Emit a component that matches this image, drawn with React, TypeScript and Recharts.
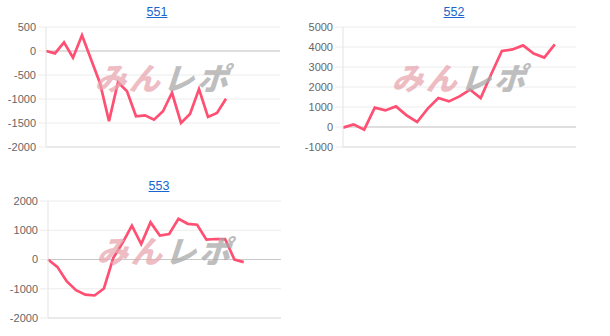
import React from "react";
import {
  LineChart,
  Line,
  XAxis,
  YAxis,
  CartesianGrid,
  ReferenceLine,
} from "recharts";

// ---------------------------------------------------------------------------
// Data
// ---------------------------------------------------------------------------

const TITLES = ["551", "552", "553"];

const VALUES_551 = [
  0, -50, 180, -140, 330, -170, -670, -1460, -650, -840, -1360, -1340, -1430,
  -1255, -870, -1497, -1311, -793, -1373, -1290, -994,
];
const VALUES_552 = [
  -30, 130, -130, 970, 830, 1030, 580, 250, 920, 1450, 1280, 1530, 1870, 1450,
  2650, 3800, 3880, 4080, 3670, 3470, 4130,
];
const VALUES_553 = [
  0, -250, -740, -1050, -1200, -1230, -990, 50, 570, 1160, 530, 1270, 820, 870,
  1390, 1220, 1190, 680, 700, 700, 0, -90,
];

const TICKS_551 = [-2000, -1500, -1000, -500, 0, 500];
const TICKS_552 = [-1000, 0, 1000, 2000, 3000, 4000, 5000];
const TICKS_553 = [-2000, -1000, 0, 1000, 2000];

// number of x slots on each axis (the series do not fill all of them)
const X_SLOTS = [26, 22, 25];

const WATERMARK_PINK = "みん";
const WATERMARK_GRAY = "レポ";

// ---------------------------------------------------------------------------
// Mini chart
// ---------------------------------------------------------------------------

interface MiniChartProps {
  title: string;
  values: number[];
  ticks: number[];
  xSlots: number;
  left: number;
  top: number;
  width: number;
  height: number;
  axisWidth: number;
}

function MiniChart({
  title,
  values,
  ticks,
  xSlots,
  left,
  top,
  width,
  height,
  axisWidth,
}: MiniChartProps) {
  const data = values.map((v, i) => ({ x: i, v }));
  const min = ticks[0];
  const max = ticks[ticks.length - 1];
  const plotLeft = left + axisWidth;

  return (
    <>
      <div
        style={{
          ...styles.title,
          left: plotLeft + 111 - 36,
          top: top + 4,
        }}
      >
        {title}
      </div>
      <div style={{ position: "absolute", left, top }}>
        <LineChart
          width={width}
          height={height}
          data={data}
          margin={{ top: 27, right: 10, left: 0, bottom: 8 }}
        >
          <CartesianGrid vertical={false} stroke="#ececec" />
          <XAxis dataKey="x" type="number" domain={[0, xSlots]} hide />
          <YAxis
            width={axisWidth}
            domain={[min, max]}
            allowDataOverflow
            ticks={ticks}
            tickCount={ticks.length}
            interval={0}
            axisLine={{ stroke: "#e3e3e3" }}
            tickLine={{ stroke: "#ececec" }}
            tickSize={8}
            tickMargin={2}
            tick={{
              fontSize: 11,
              fill: "#666",
              fontFamily: "'Liberation Sans', Arial, sans-serif",
            }}
          />
          <ReferenceLine y={0} stroke="#c9c9c9" />
          <ReferenceLine y={min} stroke="#dedede" />
          <Line
            type="linear"
            dataKey="v"
            stroke="#ff4f72"
            strokeWidth={2.7}
            dot={false}
            isAnimationActive={false}
          />
        </LineChart>
      </div>
      <div
        style={{
          ...styles.watermark,
          left: plotLeft + 53,
          top: top + (height - 35) / 2 - 1,
        }}
      >
        <span style={{ color: "#e8a7af" }}>{WATERMARK_PINK}</span>
        <span style={{ color: "#a9a9a9" }}>{WATERMARK_GRAY}</span>
      </div>
    </>
  );
}

// ---------------------------------------------------------------------------
// App
// ---------------------------------------------------------------------------

export default function App() {
  return (
    <div style={styles.page}>
      <MiniChart
        title={TITLES[0]}
        values={VALUES_551}
        ticks={TICKS_551}
        xSlots={X_SLOTS[0]}
        left={0}
        top={0}
        width={290}
        height={155}
        axisWidth={46}
      />
      <MiniChart
        title={TITLES[1]}
        values={VALUES_552}
        ticks={TICKS_552}
        xSlots={X_SLOTS[1]}
        left={297}
        top={0}
        width={289}
        height={155}
        axisWidth={46}
      />
      <MiniChart
        title={TITLES[2]}
        values={VALUES_553}
        ticks={TICKS_553}
        xSlots={X_SLOTS[2]}
        left={0}
        top={174}
        width={291}
        height={152}
        axisWidth={48}
      />
    </div>
  );
}

const styles = {
  page: {
    position: "absolute",
    left: 0,
    top: 0,
    width: 610,
    height: 336,
    background: "#fff",
    overflow: "hidden",
  } as React.CSSProperties,

  title: {
    position: "absolute",
    width: 72,
    textAlign: "center",
    fontSize: 12.5,
    lineHeight: "16px",
    color: "#1a66cc",
    textDecoration: "underline",
    fontFamily: "'Liberation Sans', Arial, sans-serif",
  } as React.CSSProperties,

  watermark: {
    position: "absolute",
    fontFamily: "'Noto Sans CJK JP', sans-serif",
    fontWeight: 900,
    fontSize: 31,
    lineHeight: "35px",
    letterSpacing: 3,
    transform: "skewX(-18deg)",
    opacity: 0.75,
    pointerEvents: "none",
    whiteSpace: "nowrap",
  } as React.CSSProperties,
} satisfies Record<string, React.CSSProperties>;
